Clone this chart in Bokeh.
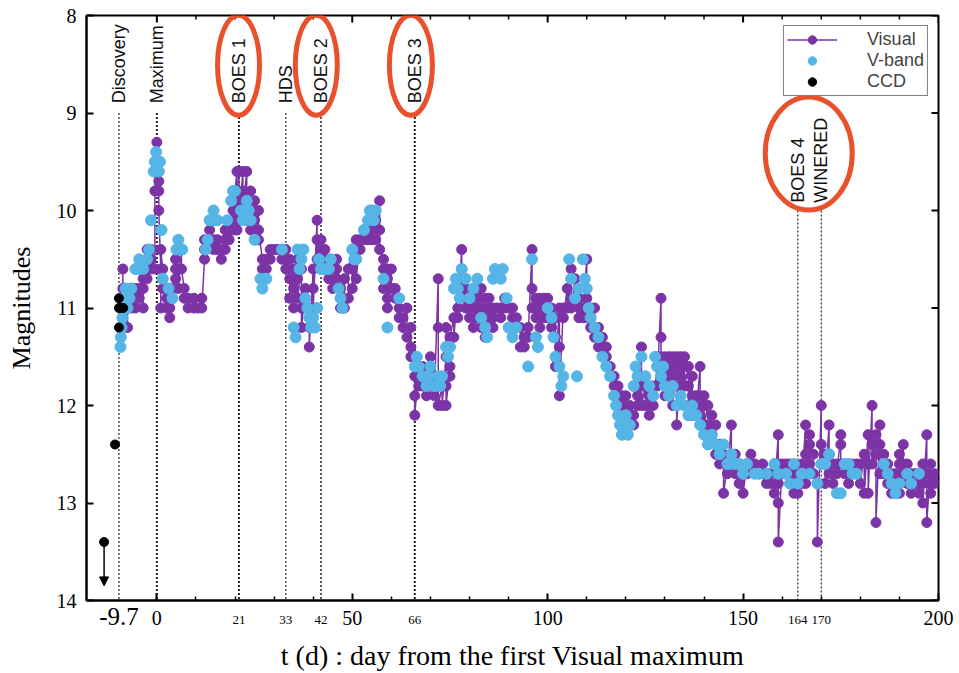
import numpy as np
from bokeh.plotting import figure
from bokeh.models import (Range1d, LinearAxis, FixedTicker, Legend, LegendItem,
                          Arrow, NormalHead)
from bokeh.core.properties import value
from bokeh.embed import file_html
from bokeh.resources import INLINE

# ---------------- data ----------------
# Visual estimates: observation day (t, days from first visual maximum) and the
# magnitudes reported on that day
visual_day = [-8.7, -7.5, -6.5, -5.5, -4.5, -3.5, -2.5, -1.5, -0.5, 0, 0.5, 1, 1.5,
              2.5, 3.3, 4, 4.8, 5.5, 6.3, 7, 8, 9.5, 10.5, 11.5, 12.2, 13.5, 14.5,
              15.5, 16.5, 17.5, 18.5, 19.5, 20.5, 21, 22, 23, 24, 25, 26, 27, 28,
              29, 30, 31, 32, 33, 34, 35, 36, 37, 38, 39, 40, 41, 42, 43, 44, 45,
              46, 47, 48, 49, 50, 51, 52, 53, 54, 55, 56, 57, 58, 59, 60, 61, 62,
              63, 64, 65, 66, 67, 68, 69, 70, 71, 72, 73, 74, 75, 76, 77, 78, 79,
              80, 81, 82, 83, 84, 85, 86, 87, 88, 89, 90, 91, 92, 93, 94, 95, 96,
              97, 98, 99, 100, 101, 102, 103, 104, 105, 106, 107, 108, 109, 110,
              111, 112, 113, 114, 115, 116, 117, 118, 119, 120, 121, 122, 123, 124,
              125, 126, 127, 128, 129, 130, 131, 132, 133, 134, 135, 136, 137, 138,
              139, 140, 141, 142, 143, 144, 145, 146, 147, 148, 149, 150, 151, 152,
              153, 154, 155, 156, 157, 158, 159, 160, 161, 162, 163, 164, 165, 166,
              167, 168, 169, 170, 171, 172, 173, 174, 175, 176, 177, 178, 179, 180,
              181, 182, 183, 184, 185, 186, 187, 188, 189, 190, 191, 192, 193, 194,
              195, 196, 197, 198, 199]
visual_mag = [
    [10.6, 11.2, 10.8, 11.0], [11.2, 10.9, 11.0], [10.8, 11.0], [10.9, 10.8, 11.0],
    [10.8, 10.9], [10.7, 11.0, 10.8], [10.6, 10.4, 10.7], [10.5, 10.6, 10.4],
    [10.6, 9.8, 9.5], [9.3, 9.5, 9.6], [9.7, 9.6, 9.8, 10.0], [10.6, 11.0, 10.4],
    [10.6, 10.8, 10.7], [10.9, 11.0, 10.8], [11.1, 11.0], [10.9, 10.8],
    [10.7, 10.5, 10.6], [10.6, 10.8], [10.4, 10.6], [10.8, 10.9], [10.9, 11.0],
    [11.0, 10.9], [11.0], [10.9, 11.0], [10.5, 10.3, 10.4], [10.3, 10.2],
    [10.3, 10.4], [10.4, 10.3], [10.4, 10.5], [10.3, 10.4, 10.2], [10.2, 10.3],
    [10.1, 10.2, 10.0], [9.6, 10.0, 10.2], [9.6, 9.9, 10.1], [9.6, 9.8, 10.0],
    [9.6, 9.9, 10.1], [9.8, 10.0, 10.2], [9.9, 10.1, 10.3, 10.2], [10.0, 10.3, 10.2],
    [10.5, 10.6], [10.6, 10.5], [10.4, 10.5], [10.4], [10.4], [10.4, 10.5],
    [10.5, 10.6, 10.4], [10.7, 10.5, 10.9], [10.6, 10.8, 11.0], [10.5, 10.7, 10.9],
    [10.6, 11.0, 11.2], [10.8, 11.0], [11.0, 11.2, 11.4], [10.6, 10.8, 11.0],
    [10.1, 10.3, 10.5], [10.3, 10.4, 10.6], [10.4, 10.5], [10.5, 10.7], [10.6, 10.8],
    [10.6, 10.7, 10.5], [10.8, 10.9, 11.0], [10.7, 11.0], [10.9, 10.6],
    [10.4, 10.6, 10.8], [10.3, 10.5, 10.7], [10.3, 10.4], [10.3, 10.2], [10.3, 10.2],
    [10.0, 10.2, 10.3], [10.1, 10.3], [9.9, 10.2, 10.4], [10.5, 10.6, 10.8],
    [10.7, 10.9, 11.0, 10.6], [10.6, 10.8], [10.8, 10.9], [10.9, 11.0, 11.1],
    [11.1, 11.2], [11.0, 11.3], [11.2, 11.4, 11.5], [11.5, 11.7, 11.9, 12.1],
    [11.6, 11.8, 11.7], [11.7, 11.8, 11.6], [11.9, 11.7], [11.8, 11.6, 11.5],
    [11.7, 11.9], [10.7, 11.2, 12.0], [11.8, 12.0], [11.5, 11.2, 11.8, 12.0],
    [11.6, 11.7, 11.3], [11.1, 11.3], [10.8, 11.0, 11.1], [10.4, 10.6, 10.8],
    [10.9, 11.0, 10.8], [10.9, 11.0, 11.1], [10.8, 11.0, 11.2], [10.9, 11.0, 11.1],
    [10.8, 11.0, 11.2], [10.9, 11.1, 11.3], [11.0, 10.9, 11.1], [11.0, 11.1, 11.2],
    [11.0], [11.0, 11.1], [11.0, 10.9], [11.0], [11.0, 11.1], [11.1, 11.2],
    [11.2, 11.4], [11.3, 11.4], [11.2, 11.3], [10.4, 10.8, 11.0], [10.9, 11.0, 11.1],
    [10.9, 11.0, 11.2], [11.0, 11.1, 10.9], [10.9, 11.0, 11.1], [11.0, 11.1, 11.2],
    [11.1, 11.3, 11.6], [11.0, 11.4, 11.9], [11.0, 11.1], [10.8, 11.0],
    [10.6, 10.9, 11.0], [10.7, 10.9], [10.9, 11.0, 11.1], [11.0, 11.1],
    [10.5, 10.9, 11.1], [11.0, 11.1, 11.2], [11.0, 11.2, 11.3], [11.2, 11.4],
    [11.3, 11.4], [11.4, 11.5], [11.6, 11.7], [11.7, 11.8], [11.8, 11.9],
    [11.9, 12.0], [11.9, 12.1], [12.0, 12.2], [12.2, 12.1], [12.0, 11.9],
    [11.4, 11.8, 12.0], [11.8, 12.0], [11.9, 12.1], [11.8, 12.0], [11.6, 11.8],
    [10.9, 11.3, 11.5], [11.5, 11.7, 11.9], [11.5, 11.6, 11.8], [11.5, 11.7, 12.0],
    [11.5, 11.6, 11.8, 12.2], [11.5, 11.7, 11.9], [11.5, 11.6, 11.8],
    [11.6, 11.8, 12.0], [11.7, 11.9, 12.1], [11.9, 12.0, 12.1], [11.6, 11.9, 12.1],
    [11.9, 12.0, 12.2], [12.0, 12.2, 12.4], [12.1, 12.3], [12.2, 12.4, 12.5],
    [12.4, 12.6], [12.5, 12.9], [12.6, 12.7], [12.2, 12.6], [12.5, 12.7],
    [12.6, 12.8], [12.7, 12.9], [12.6, 12.7], [12.5, 12.6], [12.6], [12.7],
    [12.6, 12.7], [12.7, 12.8], [12.8, 12.7], [12.6, 12.9],
    [12.3, 12.6, 12.8, 13.0, 13.4], [12.6, 12.7], [12.6, 12.7], [12.6, 12.8],
    [12.7, 12.9], [12.8, 12.9, 12.7], [12.6, 12.8], [12.2, 12.5, 12.8],
    [12.4, 12.6, 12.3], [12.5, 12.7], [12.8, 13.4], [12.0, 12.4, 12.6],
    [12.5, 12.6, 12.8], [12.2, 12.5, 12.7], [12.6, 12.8], [12.6, 12.7],
    [12.3, 12.4, 12.6], [12.6, 12.7], [12.6, 12.8], [12.7, 12.6], [12.6, 12.7],
    [12.6, 12.8], [12.5, 12.9], [12.3, 12.6, 12.9], [12.0, 12.4, 12.6],
    [12.3, 12.5, 13.2], [12.2, 12.4, 12.7], [12.5, 12.7], [12.6, 12.8],
    [12.7, 12.9], [12.7, 12.8], [12.5, 12.6, 12.9], [12.4, 12.6, 12.7],
    [12.6, 12.8], [12.7, 12.9], [12.7, 12.8], [12.8, 12.9], [12.6, 12.8, 13.0],
    [12.3, 12.7, 13.2], [12.6, 12.8, 12.9], [12.7, 12.8]]

# V-band photometry
vband_day = [-9.3, -9.2, -9.0, -8.8, -8.5, -8.0, -7.5, -7.0, -6.5, -5.5, -5.0, -4.5,
             -3.5, -2.5, -2.0, -1.5, -0.8, -0.5, -0.2, 0.2, 0.5, 0.8, 1.2, 1.5, 3.0,
             4.0, 5.0, 5.5, 6.0, 6.5, 12.5, 13.0, 13.5, 14.0, 14.5, 15.0, 15.5, 18.0,
             19.0, 19.5, 20.0, 21.5, 22.0, 23.0, 23.5, 24.0, 25.0, 26.5, 27.0, 27.5,
             28.0, 32.0, 35.0, 35.5, 36.0, 36.5, 37.0, 37.5, 38.0, 38.5, 39.0, 39.5,
             40.0, 40.5, 41.0, 41.5, 42.0, 43.0, 44.0, 44.5, 46.5, 47.0, 47.5, 50.0,
             50.5, 51.0, 53.0, 54.0, 54.5, 55.0, 55.5, 56.0, 58.0, 59.0, 62.0, 66.0,
             66.5, 67.0, 68.0, 69.0, 69.5, 70.0, 71.0, 72.0, 72.5, 73.0, 74.0, 74.5,
             75.0, 76.0, 76.5, 77.0, 77.5, 78.0, 79.0, 80.0, 81.0, 82.0, 83.0, 84.0,
             84.5, 86.0, 86.5, 88.0, 88.5, 89.5, 90.0, 91.0, 92.0, 95.0, 96.0, 97.0,
             97.5, 100.0, 101.0, 101.5, 102.0, 103.0, 103.5, 104.0, 105.5, 106.0,
             107.0, 107.5, 108.0, 109.0, 109.5, 110.0, 110.5, 111.0, 112.0, 113.0,
             114.0, 115.0, 116.0, 117.0, 117.5, 118.0, 118.5, 119.0, 119.5, 120.0,
             120.5, 121.0, 122.0, 122.5, 123.0, 124.0, 125.0, 126.0, 127.0, 127.5,
             128.0, 129.0, 129.5, 130.0, 131.0, 132.0, 133.0, 134.0, 135.0, 136.0,
             137.0, 138.0, 139.0, 140.0, 141.0, 142.0, 143.0, 144.0, 145.0, 146.0,
             147.0, 148.0, 149.0, 150.0, 151.0, 153.0, 154.0, 156.0, 158.0, 159.0,
             161.0, 162.0, 163.0, 164.0, 165.0, 167.0, 169.0, 170.0, 171.0, 172.0,
             174.0, 175.0, 176.0, 177.0, 178.0, 179.0, 186.0, 187.0, 188.0, 189.0,
             190.0, 192.0, 193.0, 195.0]
vband_mag = [11.4, 11.3, 11.2, 11.1, 10.9, 10.8, 11.0, 10.9, 10.8, 10.6, 10.6, 10.5,
             10.6, 10.5, 10.4, 10.1, 9.6, 9.5, 9.4, 9.5, 9.6, 9.5, 10.2, 10.7, 10.8,
             10.9, 10.4, 10.3, 10.4, 10.4, 10.4, 10.3, 10.1, 10.1, 10.0, 10.1, 10.1,
             10.1, 9.9, 9.8, 9.8, 10.0, 10.1, 9.9, 10.0, 10.1, 10.3, 10.7, 10.8, 10.7,
             10.7, 10.4, 11.2, 11.3, 10.4, 10.6, 10.5, 10.4, 10.9, 11.0, 11.1, 11.2,
             11.1, 11.2, 11.0, 10.5, 10.6, 10.6, 10.6, 10.5, 10.8, 10.9, 11.0, 10.4,
             10.5, 10.5, 10.2, 10.1, 10.0, 10.0, 10.1, 10.0, 10.7, 11.2, 10.9, 11.6,
             11.5, 11.6, 11.7, 11.8, 11.7, 11.6, 11.8, 11.7, 11.8, 11.7, 11.4, 11.5,
             11.4, 10.8, 10.7, 10.8, 10.9, 10.6, 10.7, 10.9, 10.8, 10.7, 11.1, 11.2,
             11.3, 10.7, 10.6, 10.7, 10.6, 10.9, 11.2, 11.3, 11.2, 11.6, 10.5, 11.3,
             11.4, 11.0, 11.1, 11.3, 11.5, 11.6, 11.8, 11.7, 10.5, 10.7, 10.9, 11.7,
             10.8, 10.5, 10.7, 10.8, 11.0, 11.1, 11.2, 11.3, 11.5, 11.6, 11.7, 11.9,
             12.0, 12.1, 12.2, 12.3, 12.2, 12.1, 12.3, 12.2, 11.8, 11.6, 11.7, 11.5,
             11.7, 11.8, 11.9, 11.5, 11.6, 11.7, 11.6, 11.8, 11.9, 11.8, 12.0, 11.9,
             12.0, 12.1, 12.0, 12.1, 12.2, 12.3, 12.4, 12.3, 12.4, 12.5, 12.4, 12.6,
             12.5, 12.6, 12.6, 12.7, 12.6, 12.7, 12.7, 12.7, 12.6, 12.7, 12.7, 12.8,
             12.6, 12.8, 12.7, 12.7, 12.8, 12.6, 12.6, 12.5, 12.9, 12.9, 12.6, 12.6,
             12.7, 12.7, 12.6, 12.7, 12.8, 12.9, 12.8, 12.7, 12.8, 12.7]

# CCD measurements (the first one is an upper limit)
ccd_day = [-13.5, -10.7, -9.7, -9.7, -9.7, -9.0, -8.6]
ccd_mag = [13.4, 12.4, 10.9, 11.0, 11.2, 11.0, 11.0]

# Observation epochs marked on the light curve
event_day = [-9.7, 0, 21, 33, 42, 66, 164, 170]
event_name = ["Discovery", "Maximum", "BOES 1", "HDS", "BOES 2", "BOES 3",
              "BOES 4", "WINERED"]

# Axis ticks
x_major = [0, 50, 100, 150, 200]
x_minor = [10, 20, 30, 40, 60, 70, 80, 90, 110, 120, 130, 140, 160, 170, 180, 190]
y_major = [8, 9, 10, 11, 12, 13, 14]
epoch_ticks_big = [-9.7]
epoch_ticks_small = [21, 33, 42, 66, 164, 170]

# ---------------- styling ----------------
PURPLE = "#7B33A6"
CYAN = "#55B5E6"
RING = "#E9502C"
SERIF = "Liberation Serif"
SANS = "Liberation Sans"

X0, X1 = -18, 200
Y_FAINT, Y_BRIGHT = 14, 8
FRAME_W, FRAME_H = 852, 585

visual_t, visual_m = [], []
for d, mags in zip(visual_day, visual_mag):
    for m in mags:
        visual_t.append(d)
        visual_m.append(m)

p = figure(width=959, height=673, output_backend="svg", toolbar_location=None,
           x_range=Range1d(X0, X1), y_range=Range1d(Y_FAINT, Y_BRIGHT),
           min_border_left=86, min_border_right=21, min_border_top=15,
           min_border_bottom=73, background_fill_color="white",
           border_fill_color="white")
p.xgrid.visible = False
p.ygrid.visible = False
p.outline_line_color = "black"
p.outline_line_width = 2


def style_axis(ax, label_size):
    ax.axis_line_width = 2
    ax.major_tick_in = 7
    ax.major_tick_out = 0
    ax.minor_tick_in = 4
    ax.minor_tick_out = 0
    ax.major_tick_line_width = 2
    ax.minor_tick_line_width = 1.5
    ax.major_label_text_font = SERIF
    ax.major_label_text_font_size = label_size
    ax.major_label_text_color = "black"
    ax.axis_label_text_font = SERIF
    ax.axis_label_text_font_style = "normal"
    ax.axis_label_text_color = "black"


# main bottom axis: round-number days
p.xaxis.ticker = FixedTicker(ticks=x_major, minor_ticks=x_minor)
style_axis(p.xaxis[0], "20px")
p.xaxis.major_label_standoff = 10

p.yaxis.ticker = FixedTicker(ticks=y_major, minor_ticks=[])
style_axis(p.yaxis[0], "20px")
p.yaxis.axis_label = "Magnitudes"
p.yaxis.axis_label_text_font_size = "26px"
p.yaxis.major_label_standoff = 10
p.yaxis.axis_label_standoff = 18

# epoch days: extra label rows pulled back up beside the round-number labels
epoch_small_axis = LinearAxis(ticker=FixedTicker(ticks=epoch_ticks_small, minor_ticks=[]),
                              major_label_overrides={t: str(t) for t in epoch_ticks_small})
style_axis(epoch_small_axis, "13px")
epoch_small_axis.major_label_standoff = -12
epoch_big_axis = LinearAxis(ticker=FixedTicker(ticks=epoch_ticks_big, minor_ticks=[]),
                            major_label_overrides={t: str(t) for t in epoch_ticks_big})
style_axis(epoch_big_axis, "25px")
epoch_big_axis.major_label_standoff = -20
epoch_big_axis.axis_label = "t (d) : day from the first Visual maximum"
epoch_big_axis.axis_label_text_font_size = "28px"
epoch_big_axis.axis_label_standoff = 12
for ax in (epoch_small_axis, epoch_big_axis):
    ax.axis_line_color = None
    ax.major_tick_line_color = None
    ax.minor_tick_line_color = None
    p.add_layout(ax, "below")

# inward ticks mirrored on the top and right frame edges
dy_major = 7 * (Y_FAINT - Y_BRIGHT) / FRAME_H
dy_minor = 4 * (Y_FAINT - Y_BRIGHT) / FRAME_H
dx_major = 7 * (X1 - X0) / FRAME_W
p.segment(x0=x_major, y0=[Y_BRIGHT] * len(x_major), x1=x_major,
          y1=[Y_BRIGHT + dy_major] * len(x_major), line_color="black", line_width=2)
p.segment(x0=x_minor, y0=[Y_BRIGHT] * len(x_minor), x1=x_minor,
          y1=[Y_BRIGHT + dy_minor] * len(x_minor), line_color="black",
          line_width=1.5)
p.segment(x0=[X1] * len(y_major), y0=y_major, x1=[X1 - dx_major] * len(y_major),
          y1=y_major, line_color="black", line_width=2)

# dotted epoch markers
line_top = [9.0, 9.0, 9.0, 9.0, 9.0, 9.0, 10.0, 10.0]
line_w = [1.2, 2, 2, 1.2, 1.5, 2, 1.2, 1.2]
p.segment(x0=event_day, y0=line_top, x1=event_day,
          y1=[Y_FAINT] * len(event_day),
          line_color="#222222", line_width=line_w, line_dash="2 2")

# light curves
vis_line = p.line(visual_t, visual_m, line_color=PURPLE, line_width=1.5)
vis_pts = p.scatter(visual_t, visual_m, size=10, fill_color=PURPLE,
                    line_color=PURPLE)
vb_pts = p.scatter(vband_day, vband_mag, size=11, fill_color=CYAN,
                   line_color=CYAN)
ccd_pts = p.scatter(ccd_day, ccd_mag, size=9, fill_color="black",
                    line_color="black")
p.add_layout(Arrow(x_start=ccd_day[0], y_start=ccd_mag[0], x_end=ccd_day[0],
                   y_end=ccd_mag[0] + 0.45, line_color="black", line_width=1.5,
                   end=NormalHead(size=9, fill_color="black", line_color="black")))

# epoch names
text_y = [8.9, 8.9, 8.9, 8.9, 8.9, 8.9, 9.92, 9.92]
p.text(x=event_day, y=text_y, text=event_name, angle=np.pi / 2,
       text_align="left", text_baseline="middle", text_font=value(SANS),
       text_font_size="18px", text_color="#111111")

# highlighted epochs
ring_x = [20.9, 40.8, 65.0, 166.8]
ring_y = [8.51, 8.51, 8.51, 9.415]
ring_w = [42, 42, 43, 87]
ring_h = [100, 100, 100, 113]
p.ellipse(x=ring_x, y=ring_y, width=ring_w, height=ring_h, width_units="screen",
          height_units="screen", fill_color=None, line_color=RING, line_width=5)

legend = Legend(items=[LegendItem(label="Visual", renderers=[vis_line, vis_pts]),
                       LegendItem(label="V-band", renderers=[vb_pts]),
                       LegendItem(label="CCD", renderers=[ccd_pts])],
                location="top_right", margin=10, padding=3, spacing=0,
                glyph_width=50, glyph_height=21, label_height=21,
                label_standoff=30, label_text_font=SANS,
                label_text_font_size="18px", border_line_color="black",
                border_line_width=1.5, background_fill_alpha=1.0)
p.add_layout(legend)

open("out.html", "w").write(file_html(p, INLINE))
